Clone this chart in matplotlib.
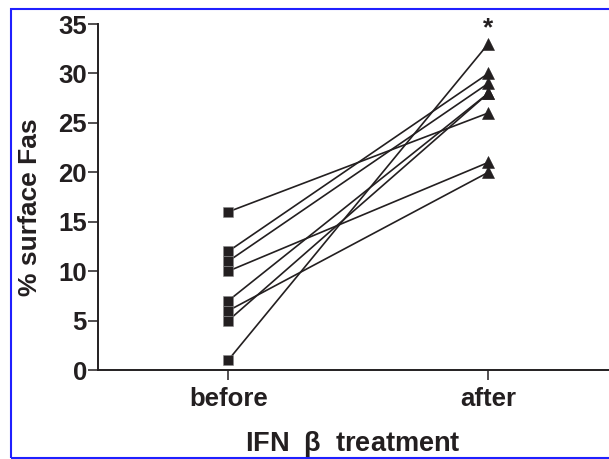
import matplotlib
matplotlib.use("Agg")
import matplotlib.pyplot as plt
from matplotlib.patches import Rectangle

categories = ["before", "after"]
before_vals = [16, 12, 11, 10, 7, 6, 5, 1]
after_vals = [26, 30, 29, 21, 28, 20, 28, 33]
y_ticks = [0, 5, 10, 15, 20, 25, 30, 35]

plt.rcParams['font.family'] = ['Liberation Sans', 'DejaVu Sans']
plt.rcParams['font.weight'] = 'bold'

fig = plt.figure(figsize=(6.09, 4.59), dpi=100)
ax = fig.add_axes([97.7 / 609, 1 - 370 / 459, 1 - 97.7 / 609, (370 - 24) / 459])

dark = '#231f20'
xs = [0, 1]
for b, a in zip(before_vals, after_vals):
    ax.plot(xs, [b, a], color=dark, lw=1.2, zorder=2)
ax.plot([0] * len(before_vals), before_vals, ls='none', marker='s', ms=7.5,
        mfc=dark, mec='#888888', mew=0.4, zorder=3)
ax.plot([1] * len(after_vals), after_vals, ls='none', marker='^', ms=8.8,
        mfc=dark, mec=dark, mew=0.4, zorder=3)

ax.text(1, 33.4, '*', ha='center', va='bottom', fontsize=19, fontweight='bold', color=dark)

ax.set_xlim(-0.502, 1.464)
ax.set_ylim(0, 35)
ax.set_xticks(xs)
ax.set_xticklabels(categories, fontsize=18.5, fontweight='bold', color=dark)
ax.set_yticks(y_ticks)
ax.set_yticklabels([str(t) for t in y_ticks], fontsize=18.5, fontweight='bold', color=dark)
ax.tick_params(axis='both', direction='out', length=7.2, width=1.1, color=dark, pad=0.5)
ax.tick_params(axis='x', pad=5)
for s in ['top', 'right']:
    ax.spines[s].set_visible(False)
for s in ['left', 'bottom']:
    ax.spines[s].set_linewidth(1.4)
    ax.spines[s].set_color(dark)

ax.set_ylabel('% surface Fas', fontsize=19, fontweight='bold', color=dark, labelpad=12)
ax.yaxis.label.set_y(0.47)
ax.set_xlabel('IFN  $\\mathregular{\\beta}$  treatment', fontsize=19.5, fontweight='bold', color=dark, labelpad=13)

fig.patches.append(Rectangle((11 / 609, 1 - 458 / 459), 1.0, (458 - 8.5) / 459,
                             transform=fig.transFigure, fill=False, edgecolor='#2020ff',
                             lw=1.5, zorder=10))

fig.savefig('out.png', dpi=100)
